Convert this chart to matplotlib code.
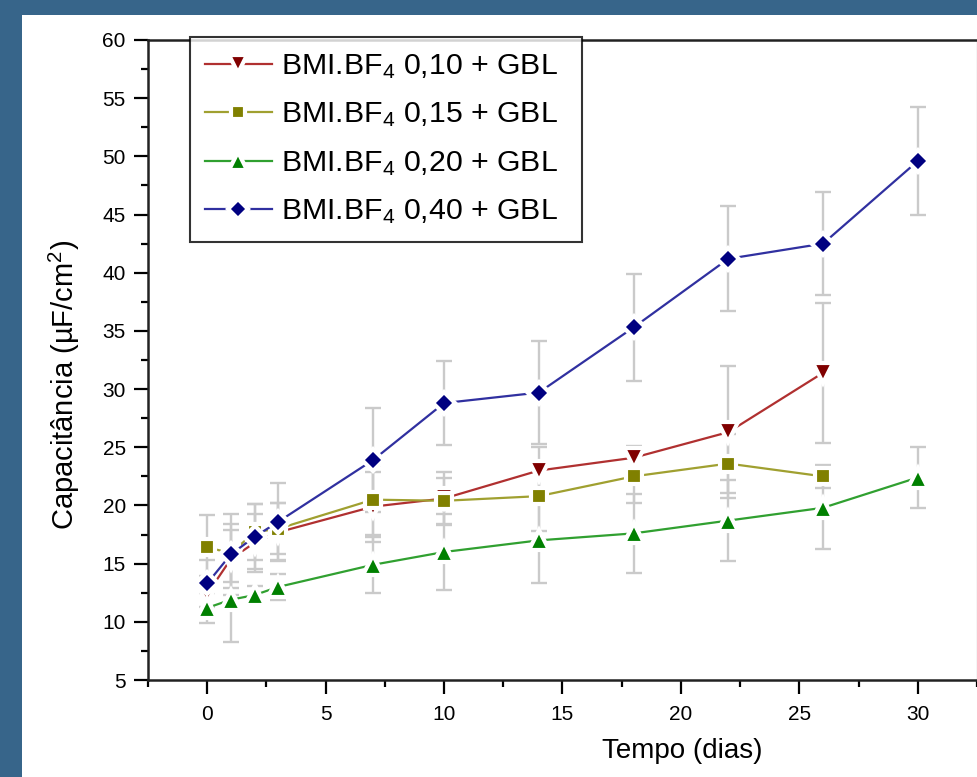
import matplotlib
matplotlib.use("Agg")
import matplotlib.pyplot as plt
from matplotlib.patches import Rectangle
from matplotlib.ticker import MultipleLocator

plt.rcParams['font.family'] = ['Liberation Sans', 'DejaVu Sans']
plt.rcParams['mathtext.fontset'] = 'custom'
plt.rcParams['mathtext.rm'] = 'Liberation Sans'
plt.rcParams['mathtext.it'] = 'Liberation Sans'

# ---- data ----
days_a = [0, 1, 2, 3, 7, 10, 14, 18, 22, 26]
days_b = [0, 1, 2, 3, 7, 10, 14, 18, 22, 26, 30]

c010 = [12.4, 15.4, 16.8, 17.7, 19.9, 20.6, 23.0, 24.1, 26.3, 31.4]
e010 = [1.5, 2.5, 2.5, 2.5, 3.0, 2.3, 2.0, 1.0, 5.7, 6.0]

c015 = [16.4, 15.9, 17.7, 18.0, 20.5, 20.4, 20.8, 22.5, 23.6, 22.5]
e015 = [2.8, 2.5, 2.4, 2.2, 3.0, 2.0, 3.0, 2.3, 2.5, 1.0]

c020 = [11.2, 11.9, 12.3, 13.0, 14.9, 16.0, 17.0, 17.6, 18.7, 19.8, 22.4]
e020 = [1.3, 3.6, 0.8, 1.1, 2.4, 3.3, 3.7, 3.4, 3.5, 3.5, 2.6]

c040 = [13.3, 15.8, 17.3, 18.6, 23.9, 28.8, 29.7, 35.3, 41.2, 42.5, 49.6]
e040 = [2.0, 3.5, 2.8, 3.3, 4.5, 3.6, 4.4, 4.6, 4.5, 4.4, 4.6]

labels = ["BMI.BF$_4$ 0,10 + GBL  ", "BMI.BF$_4$ 0,15 + GBL  ",
          "BMI.BF$_4$ 0,20 + GBL  ", "BMI.BF$_4$ 0,40 + GBL  "]

x_ticks = [0, 5, 10, 15, 20, 25, 30]
y_ticks = [5, 10, 15, 20, 25, 30, 35, 40, 45, 50, 55, 60]

# ---- figure ----
W, H = 978, 777
fig = plt.figure(figsize=(W / 100, H / 100), dpi=100)
fig.patch.set_facecolor('#37658a')
bg = Rectangle((22 / W, 0), 1, 1 - 15 / H, transform=fig.transFigure,
               facecolor='white', edgecolor='none', zorder=-10)
fig.add_artist(bg)

ax = fig.add_axes([148 / W, 1 - 680 / H, (977 - 148) / W, (680 - 40) / H])
ax.set_facecolor('white')
ax.set_zorder(1)

series = [
    (days_a, c010, e010, 'v', '#b03030', '#800000', 11),
    (days_a, c015, e015, 's', '#a0a030', '#808000', 8),
    (days_b, c020, e020, '^', '#30a030', '#008000', 11),
    (days_b, c040, e040, 'D', '#3030a0', '#000080', 8),
]

handles = []
for i, (xd, yd, ed, mk, lc, mc, ms) in enumerate(series):
    ax.errorbar(xd, yd, yerr=ed, fmt='none', ecolor='#cacaca', elinewidth=1.7,
                capsize=5.5, capthick=1.7, zorder=2)
for i, (xd, yd, ed, mk, lc, mc, ms) in enumerate(series):
    h, = ax.plot(xd, yd, color=lc, lw=1.6, marker=mk, markersize=ms + 3,
                 markerfacecolor=mc, markeredgecolor='white', markeredgewidth=3,
                 zorder=3 + i)
    handles.append(h)

ax.set_xlim(-2.5, 32.5)
ax.set_ylim(5, 60)
ax.set_xticks(x_ticks)
ax.set_yticks(y_ticks)
ax.xaxis.set_minor_locator(MultipleLocator(2.5))
ax.yaxis.set_minor_locator(MultipleLocator(2.5))
ax.tick_params(which='major', direction='out', length=10, width=1.6,
               labelsize=15, top=False, right=False)
ax.tick_params(axis='x', which='major', pad=8)
ax.tick_params(axis='y', which='major', pad=6)
ax.tick_params(which='minor', direction='out', length=5, width=1.6,
               top=False, right=False)
for s in ['left', 'bottom', 'top']:
    ax.spines[s].set_linewidth(1.8)
    ax.spines[s].set_color('#222222')
ax.spines['right'].set_color('#cccccc')
ax.spines['right'].set_linewidth(1.0)

ax.set_xlabel('Tempo (dias)', fontsize=20)
ax.xaxis.set_label_coords((682 - 148) / (977 - 148), (680 - 738) / 640)
ax.set_ylabel('Capacitância (µF/cm$^2$)', fontsize=21)
ax.yaxis.set_label_coords((82 - 148) / (977 - 148), (680 - 385) / 640)

leg = ax.legend(handles, labels, loc='upper left',
                bbox_to_anchor=((190 - 148) / 829, (680 - 37) / 640),
                borderaxespad=0, fontsize=21.8, frameon=True, fancybox=False,
                handlelength=2.2, handletextpad=0.3, labelspacing=0.65,
                borderpad=0.5, markerscale=0.9)
leg.get_frame().set_edgecolor('black')
leg.get_frame().set_linewidth(1.5)
leg.set_zorder(10)

fig.savefig('out.png', dpi=100, facecolor=fig.get_facecolor())
